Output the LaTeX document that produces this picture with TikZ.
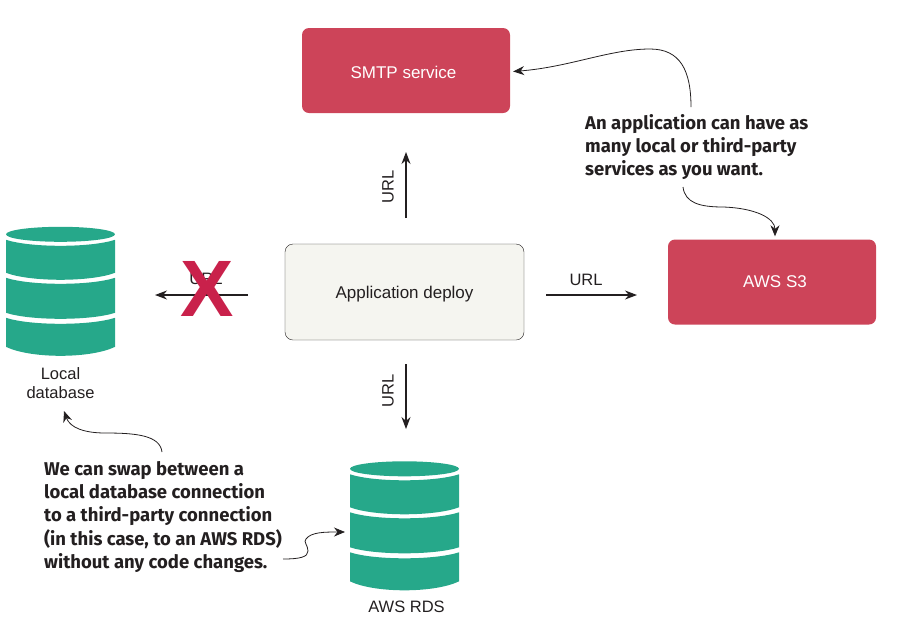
\documentclass[tikz,border=0pt]{standalone}
\usepackage{fontspec}
\setmainfont{Liberation Sans}
\newfontfamily\calloutfont{Fira Sans}[UprightFont=* Bold]
\usetikzlibrary{arrows.meta,positioning}
\definecolor{svcred}{HTML}{CD4459}
\definecolor{xred}{HTML}{C9214B}
\definecolor{dbgreen}{HTML}{26A88A}
\definecolor{appfill}{HTML}{F5F5F0}
\definecolor{inkdark}{HTML}{231F20}
\tikzstyle{service}=[
	rectangle,
	rounded corners=7pt,
	fill=svcred,
	text=white,
	font=\fontsize{17}{19}\selectfont,
	minimum width=208pt,
	minimum height=85pt
]
\tikzstyle{appbox}=[
	rectangle,
	rounded corners=8pt,
	draw=inkdark,
	fill=appfill,
	text=inkdark,
	font=\fontsize{17}{19}\selectfont,
	text height=17pt,
	text depth=4pt,
	minimum width=239pt,
	minimum height=96pt
]
\tikzstyle{dbslot}=[
	inner sep=0pt,
	minimum width=109pt,
	minimum height=129pt
]
\tikzstyle{label}=[
	inner sep=0pt,
	text=inkdark,
	align=center,
	font=\fontsize{16.5}{19}\selectfont
]
\tikzstyle{callout}=[
	inner sep=0pt,
	text=inkdark,
	align=left,
	font=\calloutfont\fontsize{18.5}{23.3}\selectfont
]
\tikzstyle{urlflow}=[
	-{Stealth[length=12pt,width=9pt]},
	draw=inkdark,
	line width=1.1pt
]
\tikzstyle{pointer}=[
	-{Stealth[length=11pt,width=9pt]},
	draw=inkdark,
	line width=0.8pt
]
\tikzset{
	dbstack/.pic={
		\fill [dbgreen] (0,7.5) ellipse [x radius=54.5, y radius=7.5];
		\fill [dbgreen] (-54.5,13) .. controls (-30,21) and (30,21) .. (54.5,13) -- (54.5,46) .. controls (30,55.3) and (-30,55.3) .. (-54.5,46) -- cycle;
		\fill [dbgreen] (-54.5,51) .. controls (-30,59) and (30,59) .. (54.5,51) -- (54.5,86) .. controls (30,94) and (-30,94) .. (-54.5,86) -- cycle;
		\fill [dbgreen] (-54.5,91) .. controls (-30,99) and (30,99) .. (54.5,91) -- (54.5,120) .. controls (30,132) and (-30,132) .. (-54.5,120) -- cycle;
	}
}

\begin{document}
\begin{tikzpicture}[x=1pt,y=-1pt]
\useasboundingbox (0,0) rectangle (911,625);
\node [service, text height=15pt, text depth=0pt] (SMTP) at (406,70.5) {\hspace*{-5pt}SMTP service};
\node [service] (AWSS3) at (772,282) {\hspace*{6pt}AWS S3};
\node [appbox] (Deploy) at (404.5,292) {Application deploy};
\node [dbslot] (LocalDB) at (60.5,291.5) {};
\node [dbslot] (RDS) at (404.5,526) {};
\pic at (LocalDB.north) {dbstack};
\pic at (RDS.north) {dbstack};
\node [label] (LocalName) [below=11pt of LocalDB] {Local\\database};
\node [label, xshift=2pt] (RDSName) [below=10pt of RDS] {AWS RDS};
\node [callout, anchor=north west] (ManyNote) at (585,114) {An application can have as\\many local or third-party\\services as you want.};
\node [callout, anchor=north west] (SwapNote) at (44,461) {We can swap between a\\local database connection\\to a third-party connection\\(in this case, to an AWS RDS)\\without any code changes.};
% free ends of the arrows
\coordinate (ManyTop) at (691,107);
\coordinate (ManyBottom) at (683,187);
\coordinate (SwapTop) at (162,452);
\coordinate (SwapRight) at (283,559);
\coordinate (RDSEntry) at (345,532);
\coordinate (DeployLeft) at (248,295);
\coordinate (LocalEntry) at (155,295);
\coordinate (DeployRight) at (546,295);
\coordinate (S3Entry) at (637,295);
\coordinate (DeployTop) at (406,218);
\coordinate (SMTPEntry) at (406,152);
\coordinate (DeployBottom) at (406,364);
\coordinate (RDSTop) at (406,429);
% URL flows
\draw [urlflow] (DeployTop) -- (SMTPEntry);
\draw [urlflow] (DeployRight) -- (S3Entry);
\draw [urlflow] (DeployBottom) -- (RDSTop);
\draw [urlflow] (DeployLeft) -- (LocalEntry);
\node [label, rotate=90] (UrlUp) at (388,187) {URL};
\node [label] (UrlRight) at (586,280) {URL};
\node [label, rotate=90] (UrlDown) at (388,391) {URL};
\node [label] (UrlLeft) at (206,279) {URL};
\node [inner sep=0pt, text=xred, font=\fontsize{80}{80}\selectfont\bfseries] (Cross) at (207,289) {X};
% callout pointers
\draw [pointer] (ManyTop) .. controls (691,70) and (680,49) .. (650,49) .. controls (610,49) and (570,67) .. ([xshift=3pt,yshift=-1pt]SMTP.east);
\draw [pointer] (ManyBottom) .. controls (685,203) and (700,207) .. (723,207) .. controls (755,208) and (775,218) .. ([xshift=3pt,yshift=3pt]AWSS3.north);
\draw [pointer] (SwapTop) .. controls (160,435) and (135,433) .. (105,433) .. controls (85,433) and (70,428) .. (64,411);
\draw [pointer] (SwapRight) .. controls (300,559) and (308,557) .. (308,551) .. controls (308,545) and (303,542) .. (306,539) .. controls (311,532) and (325,532) .. (RDSEntry);
\end{tikzpicture}
\end{document}
